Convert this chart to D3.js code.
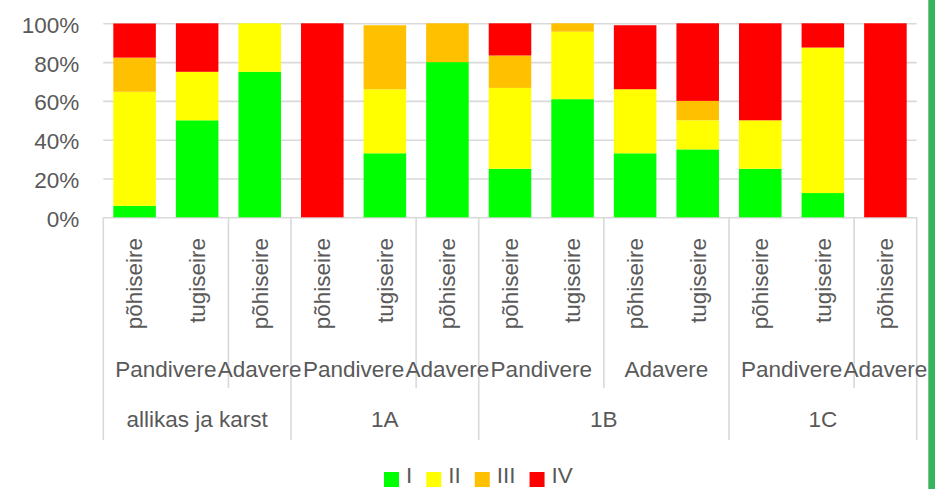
<!DOCTYPE html>
<html>
<head>
<meta charset="utf-8">
<script src="https://cdn.jsdelivr.net/npm/d3@7"></script>
<style>
  body { margin: 0; background: #fff; }
  svg { display: block; font-family: "Liberation Sans", Arial, sans-serif; }
</style>
</head>
<body>
<svg></svg>
<script>
let width = 946,
    height = 489;

// chart data
const seireTypes = ["põhiseire", "tugiseire", "põhiseire", "põhiseire", "tugiseire", "põhiseire",
    "põhiseire", "tugiseire", "põhiseire", "tugiseire", "põhiseire", "tugiseire", "põhiseire"];
const regionLabels = ["Pandivere", "Adavere", "Pandivere", "Adavere", "Pandivere", "Adavere", "Pandivere", "Adavere"];
const regionSpans = [2, 1, 2, 1, 2, 2, 2, 1];
const groupLabels = ["allikas ja karst", "1A", "1B", "1C"];
const groupSpans = [3, 3, 4, 3];

const seriesNames = ["I", "II", "III", "IV"];
const valuesI = [5.9, 50, 75, 0, 33, 80, 25, 60.9, 33, 35, 25, 12.5, 0];
const valuesII = [58.8, 25, 25, 0, 33, 0, 41.7, 34.8, 33, 15, 25, 75, 0];
const valuesIII = [17.6, 0, 0, 0, 33, 20, 16.7, 4.3, 0, 10, 0, 0, 0];
const valuesIV = [17.6, 25, 0, 100, 0, 0, 16.6, 0, 33, 40, 50, 12.5, 100];
const yTicks = [0, 20, 40, 60, 80, 100];

const colors = ["#00ff00", "#ffff00", "#ffc000", "#ff0000"];
const textColor = "#595959";
const lineColor = "#d9d9d9";
const fontSize = "22.5px";

let svg = d3.select("svg")
    .attr("width", width)
    .attr("height", height);

let plotLeft = 103.3, plotRight = 916.7, plotTop = 23.3, plotBottom = 217.3;
let axisBottom = 440, regionBottom = 388;

// table for stacking
let rows = seireTypes.map((s, i) => ({
    idx: i, I: valuesI[i], II: valuesII[i], III: valuesIII[i], IV: valuesIV[i]
}));
let stacked = d3.stack().keys(seriesNames)(rows);

let x = d3.scaleBand()
    .domain(d3.range(seireTypes.length))
    .range([plotLeft, plotRight])
    .paddingInner(0.32)
    .paddingOuter(0.16);

let y = d3.scaleLinear()
    .domain([0, 100])
    .range([plotBottom, plotTop]);

// y axis + gridlines
let yAxis = svg.append("g")
    .attr("transform", "translate(" + plotLeft + ",0)")
    .call(d3.axisLeft(y)
        .tickValues(yTicks)
        .tickSize(-(plotRight - plotLeft))
        .tickPadding(24)
        .tickFormat(d => d + "%"));
yAxis.select(".domain").remove();
yAxis.selectAll("line").attr("stroke", lineColor).attr("stroke-width", 1.6);
yAxis.selectAll("text")
    .attr("fill", textColor)
    .style("font-size", fontSize)
    .attr("dy", "0.4em");

// bars
svg.append("g")
    .selectAll("g")
    .data(stacked)
    .enter()
    .append("g")
    .attr("fill", (d, i) => colors[i])
    .selectAll("rect")
    .data(d => d)
    .enter()
    .append("rect")
    .attr("x", d => x(d.data.idx))
    .attr("width", x.bandwidth())
    .attr("y", d => y(d[1]))
    .attr("height", d => y(d[0]) - y(d[1]));

// multi-level category axis
let step = (plotRight - plotLeft) / seireTypes.length;
let cat = svg.append("g");

let groupEdges = [0];
groupSpans.forEach(s => groupEdges.push(groupEdges[groupEdges.length - 1] + s));
let regionEdges = [0];
regionSpans.forEach(s => regionEdges.push(regionEdges[regionEdges.length - 1] + s));

regionEdges.filter(e => !groupEdges.includes(e)).forEach(e => {
    cat.append("line")
        .attr("x1", plotLeft + e * step).attr("x2", plotLeft + e * step)
        .attr("y1", plotBottom).attr("y2", regionBottom)
        .attr("stroke", lineColor).attr("stroke-width", 1.6);
});
groupEdges.forEach(e => {
    cat.append("line")
        .attr("x1", plotLeft + e * step).attr("x2", plotLeft + e * step)
        .attr("y1", plotBottom).attr("y2", axisBottom)
        .attr("stroke", lineColor).attr("stroke-width", 1.6);
});

cat.selectAll("text.seire")
    .data(seireTypes)
    .enter()
    .append("text")
    .attr("class", "seire")
    .attr("transform", (d, i) => "translate(" + (x(i) + x.bandwidth() / 2) + ",238) rotate(-90)")
    .attr("text-anchor", "end")
    .attr("dy", "0.35em")
    .attr("fill", textColor)
    .style("font-size", fontSize)
    .text(d => d);

cat.selectAll("text.region")
    .data(regionLabels)
    .enter()
    .append("text")
    .attr("class", "region")
    .attr("x", (d, i) => plotLeft + (regionEdges[i] + regionSpans[i] / 2) * step)
    .attr("y", 377)
    .attr("text-anchor", "middle")
    .attr("fill", textColor)
    .style("font-size", fontSize)
    .text(d => d);

cat.selectAll("text.group")
    .data(groupLabels)
    .enter()
    .append("text")
    .attr("class", "group")
    .attr("x", (d, i) => plotLeft + (groupEdges[i] + groupSpans[i] / 2) * step)
    .attr("y", 427)
    .attr("text-anchor", "middle")
    .attr("fill", textColor)
    .style("font-size", fontSize)
    .text(d => d);

// legend
let legend = svg.append("g");
let lx = 384;
seriesNames.forEach((name, i) => {
    legend.append("rect")
        .attr("x", lx).attr("y", 472)
        .attr("width", 15).attr("height", 15)
        .attr("fill", colors[i]);
    let t = legend.append("text")
        .attr("x", lx + 22).attr("y", 483)
        .attr("fill", textColor)
        .style("font-size", fontSize)
        .text(name);
    lx += 22 + t.node().getComputedTextLength() + 14;
});

// green border at right
svg.append("rect")
    .attr("x", 928.3).attr("y", 0)
    .attr("width", 6.7).attr("height", height)
    .attr("fill", "#37b35b");
</script>
</body>
</html>
